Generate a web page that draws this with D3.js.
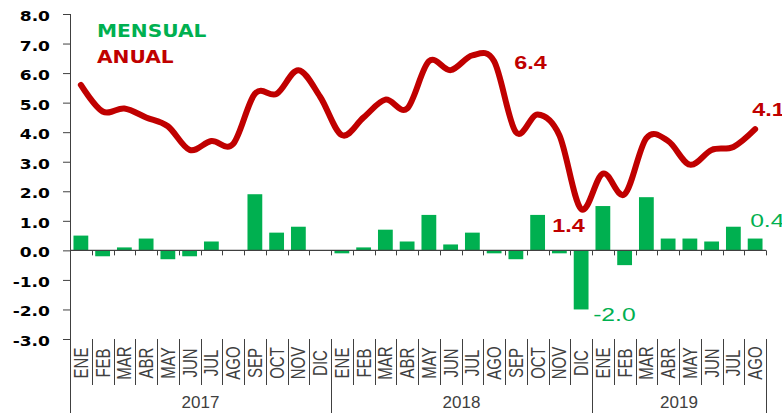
<!DOCTYPE html>
<html>
<head>
<meta charset="utf-8">
<script src="https://cdn.jsdelivr.net/npm/d3@7/dist/d3.min.js"></script>
<style>
  body { margin: 0; background: #fff; }
</style>
</head>
<body>
<svg id="chart" width="782" height="414"></svg>
<script>
// data
var monthLabels = ["ENE", "FEB", "MAR", "ABR", "MAY", "JUN", "JUL", "AGO", "SEP", "OCT", "NOV", "DIC",
    "ENE", "FEB", "MAR", "ABR", "MAY", "JUN", "JUL", "AGO", "SEP", "OCT", "NOV", "DIC",
    "ENE", "FEB", "MAR", "ABR", "MAY", "JUN", "JUL", "AGO"];
var years = ["2017", "2018", "2019"];
var monthsPerYear = [12, 12, 8];

var mensual = [0.5, -0.2, 0.1, 0.4, -0.3, -0.2, 0.3, 0.0, 1.9, 0.6, 0.8, 0.0,
    -0.1, 0.1, 0.7, 0.3, 1.2, 0.2, 0.6, -0.1, -0.3, 1.2, -0.1, -2.0,
    1.5, -0.5, 1.8, 0.4, 0.4, 0.3, 0.8, 0.4];
var anual = [5.6, 4.7, 4.8, 4.5, 4.2, 3.4, 3.7, 3.6, 5.3, 5.3, 6.1, 5.2,
    3.9, 4.5, 5.1, 4.8, 6.4, 6.1, 6.6, 6.4, 4.0, 4.6, 3.9, 1.4,
    2.6, 1.9, 3.8, 3.7, 2.9, 3.4, 3.5, 4.1];
var yTicks = [-3, -2, -1, 0, 1, 2, 3, 4, 5, 6, 7, 8];

// which points carry a value label
var anualLabels = [19, 23, 31];
var mensualLabels = [23, 31];

var GREEN = "#00B050", RED = "#C00000", AXIS = "#404040";

var svg = d3.select("#chart");
var plotLeft = 70, plotRight = 766, plotTop = 14, plotBottom = 339;

var x = d3.scaleBand()
    .domain(d3.range(monthLabels.length))
    .range([plotLeft, plotRight])
    .padding(0);

var y = d3.scaleLinear()
    .domain([-3, 8])
    .range([plotBottom, plotTop]);

// plain hyphen for negatives, like the original
var fmt = d3.formatLocale({ decimal: ".", thousands: ",", grouping: [3], currency: ["", ""], minus: "-" }).format(".1f");

// y axis
var yAxis = svg.append("g")
    .attr("transform", `translate(${plotLeft},0)`)
    .call(d3.axisLeft(y).tickValues(yTicks).tickSize(7).tickSizeOuter(0).tickFormat(fmt));
yAxis.select(".domain").remove();
yAxis.selectAll(".tick line").attr("stroke", AXIS);
yAxis.selectAll(".tick text")
    .attr("x", 0).attr("dy", null)
    .attr("text-anchor", "end")
    .attr("transform", "translate(-20,6.5) scale(1.22,1)")
    .attr("font-family", "DejaVu Sans, sans-serif")
    .attr("font-weight", "bold")
    .attr("font-size", 14)
    .attr("fill", "#000");

// left border runs down through the category table
svg.append("line")
    .attr("x1", plotLeft + 0.5).attr("x2", plotLeft + 0.5)
    .attr("y1", y(8)).attr("y2", 413)
    .attr("stroke", AXIS);

// bars
var barW = x.bandwidth() * 0.68;
svg.append("g")
    .selectAll("rect")
    .data(mensual)
    .join("rect")
    .attr("x", (d, i) => x(i) + (x.bandwidth() - barW) / 2)
    .attr("y", d => y(Math.max(0, d)))
    .attr("width", barW)
    .attr("height", d => Math.abs(y(d) - y(0)))
    .attr("fill", GREEN);

// zero line with category ticks
var bounds = d3.range(monthLabels.length + 1).map(k => plotLeft + k * x.step());
svg.append("line")
    .attr("x1", plotLeft).attr("x2", plotRight)
    .attr("y1", y(0)).attr("y2", y(0))
    .attr("stroke", AXIS).attr("stroke-width", 1.3);
svg.append("g")
    .selectAll("line")
    .data(bounds.slice(1))
    .join("line")
    .attr("x1", d => Math.round(d) + 0.5).attr("x2", d => Math.round(d) + 0.5)
    .attr("y1", y(0)).attr("y2", y(0) + 5)
    .attr("stroke", AXIS);

// annual line
var line = d3.line()
    .x((d, i) => x(i) + x.bandwidth() / 2)
    .y(d => y(d))
    .curve(d3.curveCardinal.tension(0));

svg.append("path")
    .datum(anual)
    .attr("d", line)
    .attr("fill", "none")
    .attr("stroke", RED)
    .attr("stroke-width", 6)
    .attr("stroke-linecap", "round")
    .attr("stroke-linejoin", "round");

// category table under the plot
var yearStarts = [0];
monthsPerYear.forEach((n, i) => yearStarts.push(yearStarts[i] + n));

svg.append("g")
    .selectAll("line")
    .data(bounds)
    .join("line")
    .attr("x1", d => Math.round(d) + 0.5).attr("x2", d => Math.round(d) + 0.5)
    .attr("y1", plotBottom)
    .attr("y2", (d, k) => yearStarts.indexOf(k) >= 0 ? 413 : 385)
    .attr("stroke", AXIS);

svg.append("g")
    .selectAll("text")
    .data(monthLabels)
    .join("text")
    .attr("transform", (d, i) => `translate(${x(i) + x.bandwidth() / 2 + 7},363) scale(1.3,1) rotate(-90)`)
    .attr("text-anchor", "middle")
    .attr("font-family", "Liberation Sans, Arial, sans-serif")
    .attr("font-size", 15)
    .attr("fill", AXIS)
    .text(d => d);

svg.append("g")
    .selectAll("text")
    .data(years)
    .join("text")
    .attr("x", (d, i) => (bounds[yearStarts[i]] + bounds[yearStarts[i + 1]]) / 2)
    .attr("y", 408)
    .attr("text-anchor", "middle")
    .attr("font-family", "Liberation Sans, Arial, sans-serif")
    .attr("font-size", 17)
    .attr("fill", AXIS)
    .text(d => d);

// legend
var legend = svg.append("g")
    .attr("font-family", "DejaVu Sans, sans-serif")
    .attr("font-weight", "bold")
    .attr("font-size", 18);
legend.append("text")
    .attr("transform", "translate(97,37) scale(1.12,1)")
    .attr("fill", GREEN)
    .text("MENSUAL");
legend.append("text")
    .attr("transform", "translate(97,63) scale(1.12,1)")
    .attr("fill", RED)
    .text("ANUAL");

// value labels
var anualOffset = { 19: [20, 8], 23: [-29, 23], 31: [-3, -13] };
var mensualOffset = { 23: [12, 12], 31: [-5, -12] };

svg.append("g")
    .selectAll("text")
    .data(anualLabels)
    .join("text")
    .attr("transform", i => `translate(${x(i) + x.bandwidth() / 2 + anualOffset[i][0]},${y(anual[i]) + anualOffset[i][1]}) scale(1.3,1)`)
    .attr("font-family", "Liberation Sans, Arial, sans-serif")
    .attr("font-weight", "bold")
    .attr("font-size", 18)
    .attr("fill", RED)
    .text(i => fmt(anual[i]));

svg.append("g")
    .selectAll("text")
    .data(mensualLabels)
    .join("text")
    .attr("transform", i => `translate(${x(i) + x.bandwidth() / 2 + mensualOffset[i][0]},${y(mensual[i]) + mensualOffset[i][1]}) scale(1.3,1)`)
    .attr("font-family", "Liberation Sans, Arial, sans-serif")
    .attr("font-size", 19)
    .attr("fill", GREEN)
    .text(i => fmt(mensual[i]));
</script>
</body>
</html>
